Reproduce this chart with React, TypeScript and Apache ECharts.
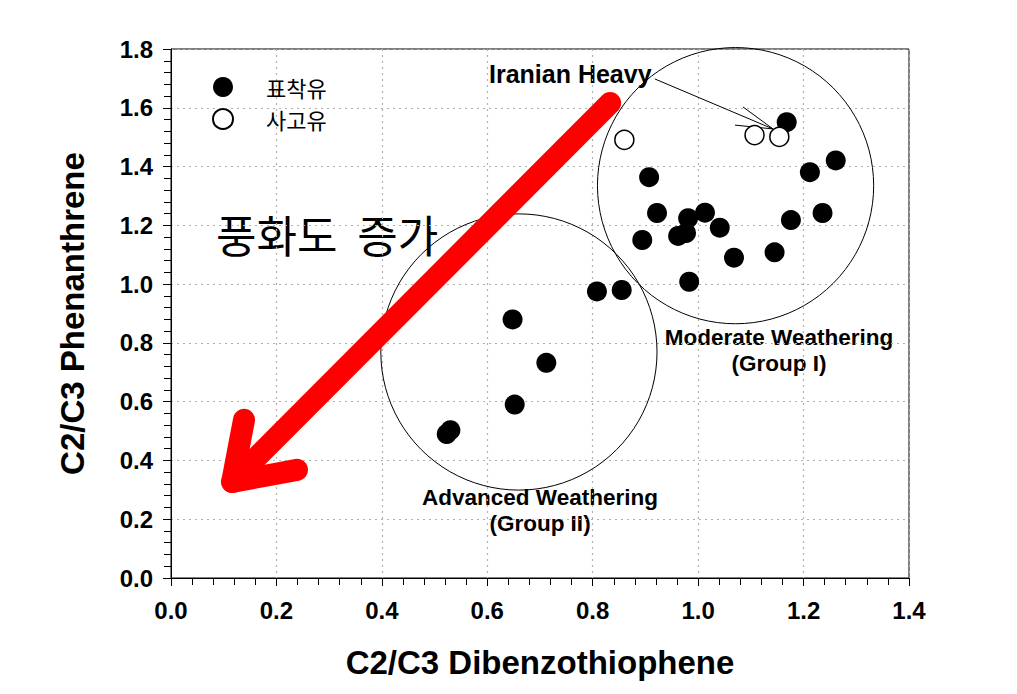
import React, { useEffect, useRef } from "react";
import * as echarts from "echarts";

// ---- Data ----
const seriesNames = ["표착유", "사고유"];
// 표착유 (stranded oil) samples: [C2/C3 Dibenzothiophene, C2/C3 Phenanthrene]
const strandedOil: number[][] = [
  [1.168, 1.551],
  [0.907, 1.364],
  [1.261, 1.421],
  [1.212, 1.381],
  [0.922, 1.242],
  [1.013, 1.243],
  [0.981, 1.224],
  [1.236, 1.242],
  [1.176, 1.218],
  [0.894, 1.150],
  [0.962, 1.164],
  [0.977, 1.174],
  [1.041, 1.192],
  [1.068, 1.090],
  [1.145, 1.108],
  [0.983, 1.008],
  [0.808, 0.975],
  [0.855, 0.980],
  [0.648, 0.880],
  [0.712, 0.732],
  [0.652, 0.590],
  [0.523, 0.490],
  [0.530, 0.503],
];
// 사고유 (spilled source oil)
const sourceOil: number[][] = [
  [0.860, 1.491],
  [1.107, 1.507],
  [1.154, 1.501],
];
const xTicks = [0, 0.2, 0.4, 0.6, 0.8, 1.0, 1.2, 1.4];
const yTicks = [0, 0.2, 0.4, 0.6, 0.8, 1.0, 1.2, 1.4, 1.6, 1.8];

// Annotation geometry (data units): group circles [cx, cy, r(x-units)]
const groupCircles: number[][] = [
  [1.071, 1.335, 0.262],
  [0.660, 0.769, 0.262],
];
const redArrowShaft: number[][] = [
  [0.833, 1.616],
  [0.116, 0.327],
];
const redArrowHead: number[][] = [
  [0.1385, 0.538],
  [0.116, 0.327],
  [0.239, 0.368],
];
const pointerShaft: number[][] = [
  [0.918, 1.698],
  [1.142, 1.528],
];
const pointerHead: number[][] = [
  [1.085, 1.603],
  [1.142, 1.528],
  [1.070, 1.541],
];

const ARIAL = "Arial, 'Liberation Sans', sans-serif";
const KR = "'Noto Sans CJK KR', sans-serif";

export default function App() {
  const ref = useRef<HTMLDivElement>(null);

  useEffect(() => {
    document.body.style.margin = "0";
    if (!ref.current) return;
    const chart = echarts.init(ref.current, null, { renderer: "svg" });

    const axisLabelStyle = {
      color: "#000",
      fontFamily: ARIAL,
      fontWeight: "bold" as const,
      fontSize: 24,
    };

    const option: any = {
      animation: false,
      backgroundColor: "#fff",
      grid: {
        left: 171,
        top: 49,
        width: 738,
        height: 529,
        show: true,
        borderColor: "#000",
        borderWidth: 1,
        backgroundColor: "transparent",
      },
      legend: {
        data: seriesNames,
        orient: "vertical",
        left: 212,
        top: 76,
        padding: 0,
        itemWidth: 20,
        itemHeight: 20,
        itemGap: 10,
        icon: "circle",
        formatter: (n: string) => `{t|${n}}`,
        textStyle: {
          color: "#000",
          rich: {
            t: {
              fontFamily: KR,
              fontSize: 22,
              lineHeight: 22,
              color: "#000",
              padding: [0, 0, 0, 28],
            },
          },
        },
      },
      xAxis: {
        type: "value",
        min: xTicks[0],
        max: xTicks[xTicks.length - 1],
        interval: 0.2,
        name: "C2/C3 Dibenzothiophene",
        nameLocation: "middle",
        nameGap: 68,
        nameTextStyle: { color: "#000", fontFamily: ARIAL, fontWeight: "bold", fontSize: 33 },
        axisLine: { show: true, onZero: false, lineStyle: { color: "#000", width: 1 } },
        axisTick: { show: true, inside: false, length: 8, lineStyle: { color: "#000" } },
        minorTick: { show: true, splitNumber: 5, length: 7, lineStyle: { color: "#000" } },
        splitLine: { show: true, lineStyle: { color: "#b0b0b0", type: [2, 4], width: 1.2 } },
        axisLabel: { ...axisLabelStyle, margin: 20, formatter: (v: number) => v.toFixed(1) },
      },
      yAxis: {
        type: "value",
        min: yTicks[0],
        max: yTicks[yTicks.length - 1],
        interval: 0.2,
        name: "C2/C3 Phenanthrene",
        nameLocation: "middle",
        nameGap: 82,
        nameTextStyle: { color: "#000", fontFamily: ARIAL, fontWeight: "bold", fontSize: 33 },
        axisLine: { show: true, onZero: false, lineStyle: { color: "#000", width: 1 } },
        axisTick: { show: true, inside: false, length: 8, lineStyle: { color: "#000" } },
        minorTick: { show: true, splitNumber: 5, length: 7, lineStyle: { color: "#000" } },
        splitLine: { show: true, lineStyle: { color: "#b0b0b0", type: [2, 4], width: 1.2 } },
        axisLabel: { ...axisLabelStyle, margin: 18, formatter: (v: number) => v.toFixed(1) },
      },
      graphic: [
        {
          type: "text",
          left: 489,
          top: 61,
          style: {
            text: "Iranian Heavy",
            fill: "#000",
            font: `bold 25px ${ARIAL}`,
          },
        },
        {
          type: "text",
          left: 216,
          top: 212,
          style: {
            text: "풍화도  증가",
            fill: "#000",
            font: `44px ${KR}`,
          },
        },
        {
          type: "text",
          x: 540,
          y: 510,
          style: {
            text: "Advanced Weathering\n(Group II)",
            fill: "#000",
            font: `bold 22.5px ${ARIAL}`,
            lineHeight: 26,
            align: "center",
            verticalAlign: "middle",
          },
        },
        {
          type: "text",
          x: 779,
          y: 350,
          style: {
            text: "Moderate Weathering\n(Group I)",
            fill: "#000",
            font: `bold 22.5px ${ARIAL}`,
            lineHeight: 26,
            align: "center",
            verticalAlign: "middle",
          },
        },
      ],
      series: [
        {
          type: "custom",
          name: "groupCircles",
          clip: false,
          silent: true,
          z: 1,
          data: groupCircles,
          renderItem: (params: any, api: any) => {
            const c = api.coord([api.value(0), api.value(1)]);
            const r = api.size([api.value(2), 0])[0];
            return {
              type: "circle",
              shape: { cx: c[0], cy: c[1], r },
              style: { fill: "none", stroke: "#000", lineWidth: 1 },
            };
          },
        },
        {
          type: "custom",
          name: "redArrow",
          clip: false,
          silent: true,
          z: 2,
          data: redArrowShaft,
          renderItem: (params: any, api: any) => {
            if (params.dataIndex !== 0) return null;
            const shaft = redArrowShaft.map((p) => api.coord(p));
            const head = redArrowHead.map((p) => api.coord(p));
            const st = { stroke: "#ff0000", lineWidth: 22, lineCap: "round", lineJoin: "round", fill: "none" };
            return {
              type: "group",
              children: [
                { type: "polyline", shape: { points: shaft }, style: st },
                { type: "polyline", shape: { points: head }, style: st },
              ],
            };
          },
        },
        {
          type: "custom",
          name: "pointer",
          clip: false,
          silent: true,
          z: 2,
          data: pointerShaft,
          renderItem: (params: any, api: any) => {
            if (params.dataIndex !== 0) return null;
            const shaft = pointerShaft.map((p) => api.coord(p));
            const head = pointerHead.map((p) => api.coord(p));
            const st = { stroke: "#000", lineWidth: 1, fill: "none" };
            return {
              type: "group",
              children: [
                { type: "polyline", shape: { points: shaft }, style: st },
                { type: "polyline", shape: { points: head }, style: st },
              ],
            };
          },
        },
        {
          type: "scatter",
          name: seriesNames[0],
          data: strandedOil,
          symbol: "circle",
          symbolSize: 20,
          z: 3,
          itemStyle: { color: "#000", opacity: 1 },
        },
        {
          type: "scatter",
          name: seriesNames[1],
          data: sourceOil,
          symbol: "circle",
          symbolSize: 19,
          z: 3,
          itemStyle: { color: "#fff", borderColor: "#000", borderWidth: 1.5, opacity: 1 },
        },
      ],
    };

    chart.setOption(option);
    return () => chart.dispose();
  }, []);

  return <div ref={ref} style={{ width: 1017, height: 694 }} />;
}
